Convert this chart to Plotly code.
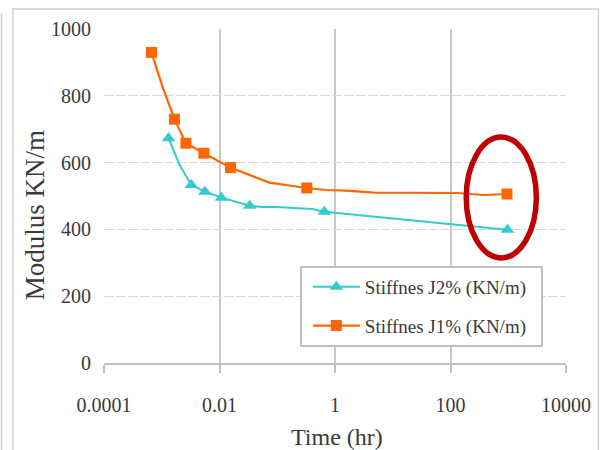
import plotly.graph_objects as go

# ---- data -------------------------------------------------------------
# Stiffness J2% : measured points (markers) and full curve (line)
j2_time_pts = [0.00131, 0.00325, 0.00559, 0.0108, 0.0333, 0.655, 970]
j2_mod_pts = [673, 533, 513, 495, 471, 453, 399]
j2_time_curve = [0.00131, 0.00204, 0.00325, 0.00559, 0.0108, 0.0333, 0.0558,
                 0.0951, 0.406, 0.655, 190, 970]
j2_mod_curve = [673, 593, 533, 513, 495, 471, 467, 467, 461, 453, 411, 399]

# Stiffness J1% : measured points (markers) and full curve (line)
j1_time_pts = [0.000663, 0.00166, 0.00262, 0.00536, 0.0155, 0.325, 950]
j1_mod_pts = [930, 730, 658, 628, 585, 524, 506]
j1_time_curve = [0.000663, 0.00105, 0.00166, 0.00262, 0.00536, 0.0155, 0.0728,
                 0.325, 0.716, 1.54, 4.83, 130, 378, 950]
j1_mod_curve = [930, 823, 730, 658, 628, 585, 540, 524, 518, 516, 510, 509,
                503, 506]

x_tick_vals = [0.0001, 0.01, 1, 100, 10000]
x_tick_text = ["0.0001", "0.01", "1", "100", "10000"]
y_tick_vals = [0, 200, 400, 600, 800, 1000]

name_j2 = "Stiffnes J2% (KN/m)"
name_j1 = "Stiffnes J1% (KN/m)"

# ---- styling ----------------------------------------------------------
W, H = 603, 450
ML, MR, MT, MB = 104, 35, 29, 87
PW, PH = W - ML - MR, H - MT - MB

TEAL = "#33CCCC"
ORANGE = "#FF6600"
TEXT = "#3a3a3a"
FONT = "Liberation Serif, Times New Roman, serif"
PAD = "\u00a0\u00a0"  # keeps some room at the right edge of the legend box


def px_x(px):
    return (px - ML) / PW


def px_y(py):
    return (H - MB - py) / PH


fig = go.Figure()

series = [
    (name_j2, j2_time_curve, j2_mod_curve, j2_time_pts, j2_mod_pts,
     TEAL, "triangle-up", 12, 2.0),
    (name_j1, j1_time_curve, j1_mod_curve, j1_time_pts, j1_mod_pts,
     ORANGE, "square", 11, 2.2),
]

for name, tc, mc, tp, mp, color, symbol, msize, lw in series:
    fig.add_trace(go.Scatter(
        x=tc, y=mc, mode="lines", line=dict(color=color, width=lw),
        showlegend=False, hoverinfo="skip"))
    fig.add_trace(go.Scatter(
        x=tp, y=mp, mode="markers", name=name,
        marker=dict(color=color, symbol=symbol, size=msize,
                    line=dict(width=0)),
        showlegend=False))
    # legend entry (line + marker)
    fig.add_trace(go.Scatter(
        x=[None], y=[None], mode="lines+markers", name=name + PAD,
        legendgroup=name,
        line=dict(color=color, width=lw),
        marker=dict(color=color, symbol=symbol, size=msize,
                    line=dict(width=0))))

shapes = [
    # chart frame
    dict(type="rect", xref="paper", yref="paper",
         x0=px_x(12.5), x1=px_x(600.5), y0=px_y(460), y1=px_y(9),
         line=dict(color="#d0d0d0", width=1.5), layer="below"),
    dict(type="line", xref="paper", yref="paper",
         x0=px_x(1), x1=px_x(1), y0=px_y(13), y1=px_y(460),
         line=dict(color="#d0d0d0", width=1.5), layer="below"),
    # highlight ring around the last readings
    dict(type="circle", xref="paper", yref="paper",
         x0=px_x(467.8), x1=px_x(538.2), y0=px_y(257.9), y1=px_y(137.1),
         line=dict(color="#C00000", width=5.5)),
]

annotations = [
    dict(text="Time (hr)", xref="paper", yref="paper",
         x=px_x(338), y=px_y(437), xanchor="center", yanchor="middle",
         showarrow=False, font=dict(family=FONT, size=24, color=TEXT)),
    dict(text="Modulus KN/m", xref="paper", yref="paper",
         x=px_x(35), y=px_y(215), xanchor="center", yanchor="middle",
         textangle=-90, showarrow=False,
         font=dict(family=FONT, size=27, color=TEXT)),
]

fig.update_layout(
    width=W, height=H, autosize=False,
    margin=dict(l=ML, r=MR, t=MT, b=MB, pad=0),
    paper_bgcolor="white", plot_bgcolor="white",
    font=dict(family=FONT, color=TEXT),
    shapes=shapes, annotations=annotations,
    legend=dict(
        x=px_x(300.7), y=px_y(266), xanchor="left", yanchor="top",
        bgcolor="white", bordercolor="#bfbfbf", borderwidth=2,
        font=dict(family=FONT, size=19, color=TEXT),
        itemwidth=47, tracegroupgap=11, indentation=6,
    ),
    xaxis=dict(
        type="log", range=[-4, 4],
        tickvals=x_tick_vals, ticktext=x_tick_text,
        tickfont=dict(family=FONT, size=20, color=TEXT),
        ticks="outside", ticklen=8, tickwidth=1.5, tickcolor="#bfbfbf",
        ticklabelstandoff=15,
        showgrid=True, gridcolor="#c8c8c8", gridwidth=1.5,
        showline=True, linecolor="#bfbfbf", linewidth=2,
        zeroline=False, mirror=False,
    ),
    yaxis=dict(
        range=[0, 1000], tickvals=y_tick_vals,
        tickfont=dict(family=FONT, size=20, color=TEXT),
        ticks="", ticklabelstandoff=12,
        showgrid=True, gridcolor="#d9d9d9", gridwidth=1,
        griddash="10px,2px",
        showline=False, zeroline=False,
    ),
)

fig.write_html("out.html", config=dict(displayModeBar=False))
